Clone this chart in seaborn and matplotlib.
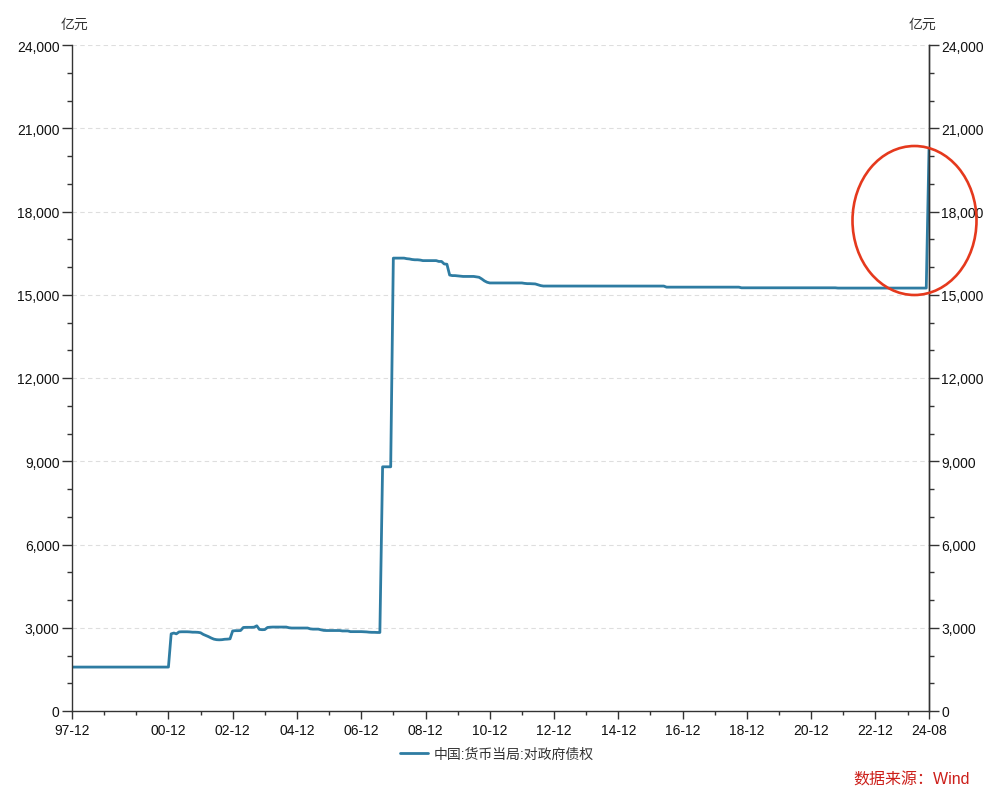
import numpy as np
import pandas as pd
import matplotlib
matplotlib.use('Agg')
import matplotlib.pyplot as plt
import seaborn as sns
from matplotlib.patches import Ellipse
from matplotlib.ticker import MultipleLocator, FuncFormatter

# ---------------- data ----------------
start_month = '1997-12'
end_month = '2024-08'
series_name = '中国:货币当局:对政府债权'
unit_label = '亿元'
source_text = '数据来源：Wind'

values = [
    1582.8,  # 1997-12
    1582.8, 1582.8, 1582.8, 1582.8, 1582.8, 1582.8, 1582.8, 1582.8, 1582.8, 1582.8, 1582.8, 1582.8,  # 1998
    1582.8, 1582.8, 1582.8, 1582.8, 1582.8, 1582.8, 1582.8, 1582.8, 1582.8, 1582.8, 1582.8, 1582.8,  # 1999
    1582.8, 1582.8, 1582.8, 1582.8, 1582.8, 1582.8, 1582.8, 1582.8, 1582.8, 1582.8, 1582.8, 1582.8,  # 2000
    2780, 2810, 2780, 2850, 2855, 2855, 2855, 2850, 2840, 2840, 2835, 2820,  # 2001
    2760, 2720, 2680, 2630, 2590, 2570, 2565, 2570, 2585, 2590, 2600, 2885,  # 2002
    2895, 2895, 2900, 3010, 3015, 3015, 3015, 3020, 3070, 2940, 2930, 2935,  # 2003
    3010, 3020, 3025, 3025, 3025, 3025, 3025, 3025, 3000, 2990, 2990, 2990,  # 2004
    2990, 2990, 2990, 2990, 2960, 2950, 2950, 2950, 2925, 2905, 2900, 2900,  # 2005
    2900, 2900, 2900, 2900, 2885, 2885, 2885, 2860, 2860, 2860, 2860, 2860,  # 2006
    2855, 2850, 2840, 2835, 2835, 2830, 2830, 8800, 8800, 8800, 8800, 16320,  # 2007
    16320, 16320, 16320, 16320, 16300, 16290, 16270, 16260, 16260, 16250, 16230, 16230,  # 2008
    16230, 16230, 16230, 16230, 16200, 16200, 16110, 16100, 15710, 15690, 15690, 15680,  # 2009
    15670, 15660, 15660, 15660, 15660, 15660, 15645, 15630, 15570, 15500, 15450, 15425,  # 2010
    15425, 15425, 15425, 15425, 15425, 15425, 15425, 15425, 15425, 15425, 15425, 15425,  # 2011
    15410, 15400, 15400, 15395, 15390, 15360, 15330, 15313.69, 15313.69, 15313.69, 15313.69, 15313.69,  # 2012
    15312.73, 15312.73, 15312.73, 15312.73, 15312.73, 15312.73, 15312.73, 15312.73, 15312.73, 15312.73, 15312.73, 15312.73,  # 2013
    15312.73, 15312.73, 15312.73, 15312.73, 15312.73, 15312.73, 15312.73, 15312.73, 15312.73, 15312.73, 15312.73, 15312.73,  # 2014
    15312.73, 15312.73, 15312.73, 15312.73, 15312.73, 15312.73, 15312.73, 15312.73, 15312.73, 15312.73, 15312.73, 15312.73,  # 2015
    15312.73, 15312.73, 15312.73, 15312.73, 15312.73, 15274.09, 15274.09, 15274.09, 15274.09, 15274.09, 15274.09, 15274.09,  # 2016
    15274.09, 15274.09, 15274.09, 15274.09, 15274.09, 15274.09, 15274.09, 15274.09, 15274.09, 15274.09, 15274.09, 15274.09,  # 2017
    15274.09, 15274.09, 15274.09, 15274.09, 15274.09, 15274.09, 15274.09, 15274.09, 15274.09, 15250.24, 15250.24, 15250.24,  # 2018
    15250.24, 15250.24, 15250.24, 15250.24, 15250.24, 15250.24, 15250.24, 15250.24, 15250.24, 15250.24, 15250.24, 15250.24,  # 2019
    15250.24, 15250.24, 15250.24, 15250.24, 15250.24, 15250.24, 15250.24, 15250.24, 15250.24, 15250.24, 15250.24, 15250.24,  # 2020
    15250.24, 15250.24, 15250.24, 15250.24, 15250.24, 15250.24, 15250.24, 15250.24, 15250.24, 15240.68, 15240.68, 15240.68,  # 2021
    15240.68, 15240.68, 15240.68, 15240.68, 15240.68, 15240.68, 15240.68, 15240.68, 15240.68, 15240.68, 15240.68, 15240.68,  # 2022
    15240.68, 15240.68, 15240.68, 15240.68, 15240.68, 15240.68, 15240.68, 15240.68, 15240.68, 15240.68, 15240.68, 15240.68,  # 2023
    15240.68, 15240.68, 15240.68, 15240.68, 15240.68, 15240.68, 15240.68, 20240.68,  # 2024 (Jan-Aug)
]

x_tick_labels = ['97-12', '00-12', '02-12', '04-12', '06-12', '08-12', '10-12',
                 '12-12', '14-12', '16-12', '18-12', '20-12', '22-12', '24-08']

# ---------------- frame ----------------
dates = pd.date_range(start_month, end_month, freq='MS')
assert len(dates) == len(values)
df = pd.DataFrame({'date': dates, 'value': values, 'series': series_name})

sns.set_theme(style='white')
plt.rcParams['font.family'] = ['Liberation Sans', 'Noto Sans CJK SC', 'DejaVu Sans']
plt.rcParams['axes.unicode_minus'] = False

W, H = 1000, 803
fig = plt.figure(figsize=(W / 100, H / 100), dpi=100)
ax_left, ax_right, ax_top, ax_bottom = 72, 929, 46, 712
ax = fig.add_axes([ax_left / W, 1 - ax_bottom / H, (ax_right - ax_left) / W, (ax_bottom - ax_top) / H])

line_color = '#2e7ca2'
sns.lineplot(data=df, x='date', y='value', hue='series', palette=[line_color],
             linewidth=2, ax=ax, legend=True)

def label_to_date(s):
    yy, mm = s.split('-')
    yy = int(yy)
    year = 1900 + yy if yy >= 50 else 2000 + yy
    return pd.Timestamp(year=year, month=int(mm), day=1)

major_dates = [label_to_date(s) for s in x_tick_labels]
minor_dates = [pd.Timestamp(year=y, month=12, day=1) for y in range(1998, 2024)
               if pd.Timestamp(year=y, month=12, day=1) not in major_dates]

ax.set_xlim(dates[0], dates[-1])
ax.set_xticks(major_dates)
ax.set_xticklabels(x_tick_labels)
ax.set_xticks(minor_dates, minor=True)

ax.set_ylim(0, 24000)
fmt = FuncFormatter(lambda v, p: f'{v:,.0f}')
ax.yaxis.set_major_locator(MultipleLocator(3000))
ax.yaxis.set_minor_locator(MultipleLocator(1000))
ax.yaxis.set_major_formatter(fmt)
ax.set_xlabel('')
ax.set_ylabel('')

axis_color = '#333333'
ax.yaxis.grid(True, which='major', linestyle=(0, (4, 3)), color='#dedede', linewidth=0.8)
ax.xaxis.grid(False)
ax.set_axisbelow(True)

for side in ['left', 'right', 'bottom']:
    ax.spines[side].set_visible(True)
    ax.spines[side].set_color(axis_color)
    ax.spines[side].set_linewidth(1)
ax.spines['top'].set_visible(False)

ax.tick_params(axis='x', which='major', length=6, width=1, color=axis_color,
               labelsize=10, labelcolor='#111111', direction='out', pad=3, bottom=True)
ax.tick_params(axis='x', which='minor', length=3, width=1, color=axis_color,
               direction='out', bottom=True)
ax.tick_params(axis='y', which='major', length=7, width=1, color=axis_color,
               labelsize=10, labelcolor='#111111', direction='out', pad=2, left=True)
ax.tick_params(axis='y', which='minor', length=3.5, width=1, color=axis_color,
               direction='out', left=True)

ax2 = ax.twinx()
ax2.set_ylim(ax.get_ylim())
ax2.yaxis.set_major_locator(MultipleLocator(3000))
ax2.yaxis.set_minor_locator(MultipleLocator(1000))
ax2.yaxis.set_major_formatter(fmt)
ax2.grid(False)
for side in ['left', 'top', 'bottom']:
    ax2.spines[side].set_visible(False)
ax2.spines['right'].set_color(axis_color)
ax2.spines['right'].set_linewidth(1)
ax2.tick_params(axis='y', which='major', length=7, width=1, color=axis_color,
                labelsize=10, labelcolor='#111111', direction='out', pad=2, right=True)
ax2.tick_params(axis='y', which='minor', length=3.5, width=1, color=axis_color,
                direction='out', right=True)

# unit labels
fig.text(74 / W, 1 - 25 / H, unit_label, ha='center', va='center', fontsize=10, color='#333333')
fig.text(922 / W, 1 - 25 / H, unit_label, ha='center', va='center', fontsize=10, color='#333333')

# legend
handles, labels = ax.get_legend_handles_labels()
if ax.get_legend() is not None:
    ax.get_legend().remove()
fig.legend(handles, labels, loc='center', bbox_to_anchor=(497 / W, 1 - 755 / H),
           frameon=False, fontsize=10, handlelength=2.0, handletextpad=0.4,
           labelcolor='#333333')

# source
fig.text(970 / W, 1 - 780 / H, source_text, ha='right', va='center', fontsize=11.5,
         color='#cc1f1a')

# highlight ellipse
ell = Ellipse((914.5 / W, 1 - 221.5 / H), 124 / W, 149 / H, transform=fig.transFigure,
              fill=False, edgecolor='#e5391d', linewidth=1.9, clip_on=False)
fig.patches.append(ell)

fig.savefig('out.png', dpi=100)
